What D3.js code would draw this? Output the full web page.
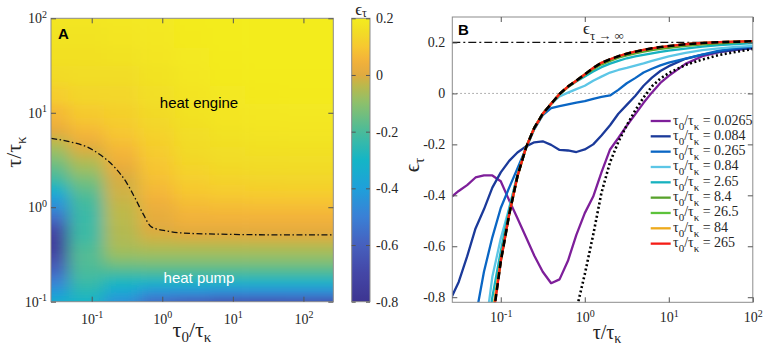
<!DOCTYPE html>
<html>
<head>
<meta charset="utf-8">
<script src="https://cdn.jsdelivr.net/npm/d3@7"></script>
<style>
  body { margin: 0; background: #fff; }
  svg { display: block; }
  text { font-family: "Liberation Serif", "Times New Roman", "DejaVu Serif", serif; fill: #262626; }
  text.sans { font-family: "Liberation Sans", Arial, sans-serif; }
</style>
</head>
<body>
<svg id="chart" width="765" height="346"></svg>
<script>
// Efficiency maps: panel A heatmap of eps_tau, panel B eps_tau curves per tau0/tau_k

// tau0/tau_k of each curve (and heatmap column)
const tau0Vals = [0.0265, 0.084, 0.265, 0.84, 2.65, 8.4, 26.5, 84, 265];
// tau/tau_k sample points shared by all curves
const tauVals = [0.0251, 0.0316, 0.0398, 0.0501, 0.0631, 0.0794, 0.1, 0.126, 0.158, 0.2, 0.251, 0.316,
  0.398, 0.501, 0.631, 0.794, 1, 1.26, 1.58, 2, 2.51, 3.16, 3.98, 5.01, 6.31, 7.94, 10, 15.8, 25.1, 39.8, 63.1, 100];

// eps_tau (null = not drawn)
const eps_0_0265 = [-0.41, -0.383, -0.36, -0.33, -0.322, -0.322, -0.345, -0.42, -0.49, -0.565, -0.637, -0.7,
  -0.745, -0.73, -0.657, -0.555, -0.47, -0.405, -0.31, -0.22, -0.175, -0.127, -0.082, -0.037, 0.004, 0.041,
  0.069, 0.116, 0.146, 0.162, 0.171, 0.178];
const eps_0_084 = [-0.81, -0.74, -0.64, -0.53, -0.455, -0.37, -0.31, -0.265, -0.232, -0.208, -0.192, -0.188,
  -0.202, -0.222, -0.224, -0.23, -0.22, -0.2, -0.165, -0.125, -0.08, -0.045, -0.01, 0.03, 0.062, 0.088,
  0.107, 0.136, 0.152, 0.163, 0.172, 0.178];
const eps_0_265 = [null, null, null, -0.88, -0.7, -0.565, -0.45, -0.37, -0.295, -0.215, -0.14, -0.085,
  -0.058, -0.05, -0.043, -0.036, -0.03, -0.021, -0.014, -0.008, 0.014, 0.04, 0.06, 0.082, 0.097, 0.11,
  0.121, 0.137, 0.152, 0.168, 0.178, 0.184];
const eps_0_84 = [null, null, null, null, -0.97, -0.72, -0.57, -0.45, -0.32, -0.212, -0.135, -0.08,
  -0.041, -0.012, 0.003, 0.017, 0.03, 0.05, 0.066, 0.082, 0.092, 0.1, 0.109, 0.118, 0.128, 0.137,
  0.145, 0.159, 0.17, 0.177, 0.183, 0.187];
const eps_2_65 = [null, null, null, null, -1.05, -0.8, -0.62, -0.455, -0.32, -0.212, -0.135, -0.08,
  -0.041, -0.003, 0.025, 0.047, 0.066, 0.086, 0.103, 0.117, 0.128, 0.138, 0.145, 0.151, 0.157, 0.163,
  0.168, 0.176, 0.184, 0.19, 0.194, 0.198];
const eps_8_4 = [null, null, null, null, null, -0.88, -0.655, -0.475, -0.325, -0.212, -0.135, -0.08,
  -0.041, -0.004, 0.025, 0.049, 0.073, 0.095, 0.114, 0.128, 0.14, 0.149, 0.157, 0.164, 0.17, 0.175,
  0.179, 0.187, 0.193, 0.197, 0.2, 0.203];
const eps_26_5 = [null, null, null, null, null, -0.89, -0.66, -0.475, -0.325, -0.212, -0.135, -0.08,
  -0.041, -0.002, 0.027, 0.05, 0.075, 0.098, 0.118, 0.132, 0.144, 0.154, 0.162, 0.169, 0.175, 0.18,
  0.184, 0.191, 0.196, 0.2, 0.202, 0.205];
const eps_84 = [null, null, null, null, null, -0.87, -0.655, -0.475, -0.325, -0.212, -0.135, -0.08,
  -0.041, -0.002, 0.027, 0.05, 0.075, 0.1, 0.12, 0.134, 0.146, 0.156, 0.164, 0.171, 0.177, 0.182,
  0.186, 0.193, 0.198, 0.201, 0.203, 0.205];
const eps_265 = [null, null, null, null, null, -0.9, -0.66, -0.475, -0.325, -0.212, -0.135, -0.08,
  -0.041, -0.002, 0.027, 0.05, 0.075, 0.1, 0.12, 0.134, 0.146, 0.156, 0.164, 0.171, 0.177, 0.182,
  0.186, 0.193, 0.198, 0.201, 0.203, 0.205];
// black dashed limit curve and black dotted curve
const epsLimit = [null, null, null, null, null, -0.9, -0.66, -0.475, -0.325, -0.212, -0.135, -0.08,
  -0.041, -0.002, 0.027, 0.05, 0.075, 0.1, 0.12, 0.134, 0.146, 0.156, 0.164, 0.171, 0.177, 0.182,
  0.186, 0.193, 0.198, 0.201, 0.203, 0.205];
const epsDotted = [null, null, null, null, null, null, null, null, null, null, null, null, null, null, null,
  -0.85, -0.71, -0.555, -0.39, -0.27, -0.19, -0.125, -0.067, -0.016, 0.028, 0.058, 0.08, 0.112, 0.133,
  0.151, 0.163, 0.174];
const epsInf = 0.2;

// zero contour (dash-dot) in panel A
const boundaryTau0 = [0.0267, 0.046, 0.0887, 0.137, 0.212, 0.31, 0.407, 0.535, 0.7, 1.09, 1.87, 5.6, 49, 265];
const boundaryTau = [5.36, 4.98, 4.3, 3.52, 2.64, 1.83, 1.27, 0.85, 0.62, 0.565, 0.535, 0.52, 0.51, 0.51];

// tick values
const logTicks = [0.1, 1, 10, 100];
const epsTicks = [-0.8, -0.6, -0.4, -0.2, 0, 0.2];

const series = [eps_0_0265, eps_0_084, eps_0_265, eps_0_84, eps_2_65, eps_8_4, eps_26_5, eps_84, eps_265];
const curveColors = ['#7e1f9a', '#1b3a9a', '#0a66c4', '#5cc6e6', '#17b2bf', '#58a22c', '#5cc23a', '#eeaa1c', '#f51d16'];

// colour map as it appears on the reference colour bar
const cmapStops = [-0.8, -0.7, -0.6, -0.5, -0.4, -0.3, -0.2, -0.1, -0.03, 0, 0.05, 0.1, 0.15, 0.2];
const cmapColors = ['#3d3591', '#4446a6', '#4660be', '#3a80d6', '#1fa0da', '#14b5c6', '#4abb9a', '#8cc06c',
  '#c0b848', '#e0aa40', '#f3b23a', '#f6c830', '#f2dc26', '#f3ec1e'];

const SERIF = '"Liberation Serif", "Times New Roman", "DejaVu Serif", serif';
const SANS = '"Liberation Sans", Arial, sans-serif';

const svg = d3.select('#chart');
const defs = svg.append('defs');

const color = d3.scaleLinear().domain(cmapStops).range(cmapColors).clamp(true);

const fmt = d => d === 0 ? '0' : d.toFixed(1);

// 10^n labels
function powLabel(sel) {
  sel.each(function(d) {
    const t = d3.select(this).text('');
    t.append('tspan').text('10');
    t.append('tspan').attr('dy', '-0.55em').attr('font-size', 10).text(Math.round(Math.log10(d)));
  });
}

// tau0/tau_k style label
function ratio(t, withZero, size, sub, shift) {
  t.append('tspan').attr('font-size', size).text('τ');
  if (withZero) t.append('tspan').attr('font-size', sub).attr('dy', shift).text('0');
  t.append('tspan').attr('font-size', size).attr('dy', withZero ? -shift : 0).text('/τ');
  t.append('tspan').attr('font-size', sub).attr('dy', shift).text('κ');
  return t;
}

function styleAxis(g, size) {
  g.attr('font-size', size).attr('font-family', SERIF).attr('color', '#555');
  g.select('.domain').remove();
}

// ---------- Panel A ----------
const A = { left: 51, right: 333.3, top: 18.3, bottom: 301.7 };
const xA = d3.scaleLog().domain([0.0265, 265]).range([A.left, A.right]);
const yA = d3.scaleLog().domain([0.1, 100]).range([A.bottom, A.top]);

defs.append('clipPath').attr('id', 'clipA')
  .append('rect').attr('x', A.left).attr('y', A.top)
  .attr('width', A.right - A.left).attr('height', A.bottom - A.top);

defs.append('filter').attr('id', 'smooth')
  .attr('filterUnits', 'userSpaceOnUse')
  .attr('x', 0).attr('y', 0).attr('width', 765).attr('height', 346)
  .append('feGaussianBlur').attr('stdDeviation', '8 5');

// heatmap cells: columns = tau0 values, rows = tau values >= 0.1
const rows = d3.range(tauVals.length).filter(i => tauVals[i] >= 0.1);
const cells = [];
series.forEach((vals, c) => {
  const x0 = c === 0 ? A.left - 40 : xA(Math.sqrt(tau0Vals[c - 1] * tau0Vals[c]));
  const x1 = c === tau0Vals.length - 1 ? A.right + 40 : xA(Math.sqrt(tau0Vals[c] * tau0Vals[c + 1]));
  rows.forEach((r, k) => {
    const y0 = k === 0 ? A.bottom + 40 : yA(Math.sqrt(tauVals[r - 1] * tauVals[r]));
    const y1 = k === rows.length - 1 ? A.top - 40 : yA(Math.sqrt(tauVals[r] * tauVals[r + 1]));
    cells.push({ x0, x1, y0, y1, v: vals[r] });
  });
});

svg.append('g')
  .attr('clip-path', 'url(#clipA)')
  .append('g')
  .attr('filter', 'url(#smooth)')
  .selectAll('rect')
  .data(cells)
  .join('rect')
  .attr('x', d => d.x0)
  .attr('y', d => d.y1)
  .attr('width', d => d.x1 - d.x0 + 0.5)
  .attr('height', d => d.y0 - d.y1 + 0.5)
  .attr('fill', d => color(d.v));

// zero contour
const boundary = boundaryTau0.map((t, i) => [t, boundaryTau[i]]);
svg.append('path')
  .datum(boundary)
  .attr('clip-path', 'url(#clipA)')
  .attr('fill', 'none')
  .attr('stroke', '#111')
  .attr('stroke-width', 1.3)
  .attr('stroke-dasharray', '6,2.5,1.5,2.5')
  .attr('d', d3.line().x(d => xA(d[0])).y(d => yA(d[1])).curve(d3.curveMonotoneX));

svg.append('rect')
  .attr('x', A.left).attr('y', A.top)
  .attr('width', A.right - A.left).attr('height', A.bottom - A.top)
  .attr('fill', 'none').attr('stroke', '#8c8c8c');

svg.append('g')
  .attr('transform', `translate(0,${A.bottom})`)
  .call(d3.axisBottom(xA).tickValues(logTicks).tickSizeInner(-5).tickSizeOuter(0).tickPadding(12))
  .call(g => styleAxis(g, 14))
  .call(g => g.selectAll('text').call(powLabel));
svg.append('g')
  .attr('transform', `translate(0,${A.top})`)
  .call(d3.axisTop(xA).tickValues(logTicks).tickSizeInner(-5).tickSizeOuter(0).tickFormat(''))
  .call(g => styleAxis(g, 14));
svg.append('g')
  .attr('transform', `translate(${A.left},0)`)
  .call(d3.axisLeft(yA).tickValues(logTicks).tickSizeInner(-5).tickSizeOuter(0).tickPadding(4))
  .call(g => styleAxis(g, 14))
  .call(g => g.selectAll('text').call(powLabel));
svg.append('g')
  .attr('transform', `translate(${A.right},0)`)
  .call(d3.axisRight(yA).tickValues(logTicks).tickSizeInner(-5).tickSizeOuter(0).tickFormat(''))
  .call(g => styleAxis(g, 14));

ratio(svg.append('text').attr('x', 192).attr('y', 337).attr('text-anchor', 'middle'), true, 22, 15, 5);
ratio(svg.append('text').attr('transform', 'translate(21,152) rotate(-90)').attr('text-anchor', 'middle'), false, 22, 15, 5);

svg.append('text').attr('class', 'sans').attr('x', 58).attr('y', 39)
  .attr('font-size', 15).attr('font-weight', 'bold').style('fill', '#000').text('A');
svg.append('text').attr('class', 'sans').attr('x', 199).attr('y', 107.5)
  .attr('text-anchor', 'middle').attr('font-size', 15).style('fill', '#000').text('heat engine');
svg.append('text').attr('class', 'sans').attr('x', 199).attr('y', 282.5)
  .attr('text-anchor', 'middle').attr('font-size', 15).style('fill', '#fff').text('heat pump');

// ---------- Colorbar ----------
const C = { left: 351.7, right: 370, top: 18.3, bottom: 301.7 };
const yC = d3.scaleLinear().domain([-0.8, 0.2]).range([C.bottom, C.top]);

const grad = defs.append('linearGradient').attr('id', 'cbar')
  .attr('x1', 0).attr('y1', 1).attr('x2', 0).attr('y2', 0);
d3.range(0, 1.0001, 0.02).forEach(f => {
  grad.append('stop').attr('offset', f).attr('stop-color', color(-0.8 + f));
});
svg.append('rect')
  .attr('x', C.left).attr('y', C.top)
  .attr('width', C.right - C.left).attr('height', C.bottom - C.top)
  .attr('fill', 'url(#cbar)').attr('stroke', '#8c8c8c');

svg.append('g')
  .attr('transform', `translate(${C.right},0)`)
  .call(d3.axisRight(yC).tickValues(epsTicks).tickSizeInner(-4).tickSizeOuter(0).tickPadding(6).tickFormat(fmt))
  .call(g => styleAxis(g, 14));
svg.append('g')
  .attr('transform', `translate(${C.left},0)`)
  .call(d3.axisLeft(yC).tickValues(epsTicks).tickSizeInner(-4).tickSizeOuter(0).tickFormat(''))
  .call(g => styleAxis(g, 14));

const cLab = svg.append('text').attr('x', 361).attr('y', 15).attr('text-anchor', 'middle');
cLab.append('tspan').attr('font-size', 17).text('ϵ');
cLab.append('tspan').attr('font-size', 12).attr('dy', 2).text('τ');

// ---------- Panel B ----------
const B = { left: 452.3, right: 752.8, top: 17, bottom: 302.3 };
const xB = d3.scaleLog().domain([0.0265, 100]).range([B.left, B.right]);
const yB = d3.scaleLinear().domain([-0.82, 0.3]).range([B.bottom, B.top]);

defs.append('clipPath').attr('id', 'clipB')
  .append('rect').attr('x', B.left).attr('y', B.top)
  .attr('width', B.right - B.left).attr('height', B.bottom - B.top);

const plotB = svg.append('g').attr('clip-path', 'url(#clipB)');

// reference lines
plotB.append('line')
  .attr('x1', B.left).attr('x2', B.right)
  .attr('y1', yB(0)).attr('y2', yB(0))
  .attr('stroke', '#999').attr('stroke-width', 1).attr('stroke-dasharray', '1.5,2.5');
plotB.append('line')
  .attr('x1', B.left).attr('x2', B.right)
  .attr('y1', yB(epsInf)).attr('y2', yB(epsInf))
  .attr('stroke', '#111').attr('stroke-width', 1.2).attr('stroke-dasharray', '8,3,2,3');

const lineB = d3.line()
  .defined(d => d.v !== null)
  .x(d => xB(d.t))
  .y(d => yB(d.v));
const toPts = vals => vals.map((v, i) => ({ t: tauVals[i], v }));

series.forEach((vals, i) => {
  plotB.append('path')
    .datum(toPts(vals))
    .attr('fill', 'none')
    .attr('stroke', curveColors[i])
    .attr('stroke-width', 2.3)
    .attr('stroke-linejoin', 'round')
    .attr('d', lineB);
});

plotB.append('path')
  .datum(toPts(epsLimit))
  .attr('fill', 'none')
  .attr('stroke', '#000')
  .attr('stroke-width', 2.6)
  .attr('stroke-dasharray', '7,4')
  .attr('d', lineB);

plotB.append('path')
  .datum(toPts(epsDotted))
  .attr('fill', 'none')
  .attr('stroke', '#000')
  .attr('stroke-width', 2.6)
  .attr('stroke-dasharray', '2,2.5')
  .attr('d', lineB);

svg.append('rect')
  .attr('x', B.left).attr('y', B.top)
  .attr('width', B.right - B.left).attr('height', B.bottom - B.top)
  .attr('fill', 'none').attr('stroke', '#8c8c8c');

svg.append('g')
  .attr('transform', `translate(0,${B.bottom})`)
  .call(d3.axisBottom(xB).tickValues(logTicks).tickSizeInner(-5).tickSizeOuter(0).tickPadding(10))
  .call(g => styleAxis(g, 14))
  .call(g => g.selectAll('text').call(powLabel));
svg.append('g')
  .attr('transform', `translate(0,${B.top})`)
  .call(d3.axisTop(xB).tickValues(logTicks).tickSizeInner(-5).tickSizeOuter(0).tickFormat(''))
  .call(g => styleAxis(g, 14));
svg.append('g')
  .attr('transform', `translate(${B.left},0)`)
  .call(d3.axisLeft(yB).tickValues(epsTicks).tickSizeInner(-5).tickSizeOuter(0).tickPadding(7).tickFormat(fmt))
  .call(g => styleAxis(g, 14));
svg.append('g')
  .attr('transform', `translate(${B.right},0)`)
  .call(d3.axisRight(yB).tickValues(epsTicks).tickSizeInner(-5).tickSizeOuter(0).tickFormat(''))
  .call(g => styleAxis(g, 14));

ratio(svg.append('text').attr('x', 607).attr('y', 339).attr('text-anchor', 'middle'), false, 20, 14, 3.5);
const yLabB = svg.append('text').attr('transform', 'translate(419,165) rotate(-90)').attr('text-anchor', 'middle');
yLabB.append('tspan').attr('font-size', 21).text('ϵ');
yLabB.append('tspan').attr('font-size', 15).attr('dy', 5).text('τ');

const infLab = svg.append('text').attr('x', 583).attr('y', 34);
infLab.append('tspan').attr('font-size', 17).text('ϵ');
infLab.append('tspan').attr('font-size', 13).attr('dy', 6).text('τ → ∞');

svg.append('text').attr('class', 'sans').attr('x', 458).attr('y', 35)
  .attr('font-size', 15).attr('font-weight', 'bold').style('fill', '#000').text('B');

// legend
const legend = svg.append('g');
tau0Vals.forEach((v, i) => {
  const y = 121 + i * 15.33;
  legend.append('line')
    .attr('x1', 650.7).attr('x2', 670.7)
    .attr('y1', y).attr('y2', y)
    .attr('stroke', curveColors[i]).attr('stroke-width', 2.3);
  const t = legend.append('text').attr('x', 673).attr('y', y + 3.5);
  ratio(t, true, 14, 11, 5);
  t.append('tspan').attr('font-size', 14).attr('dy', -5).text(' = ' + v);
});

// make sure the fonts stick on every text
svg.selectAll('text').style('font-family', function() {
  return this.classList.contains('sans') ? SANS : SERIF;
});
</script>
</body>
</html>
